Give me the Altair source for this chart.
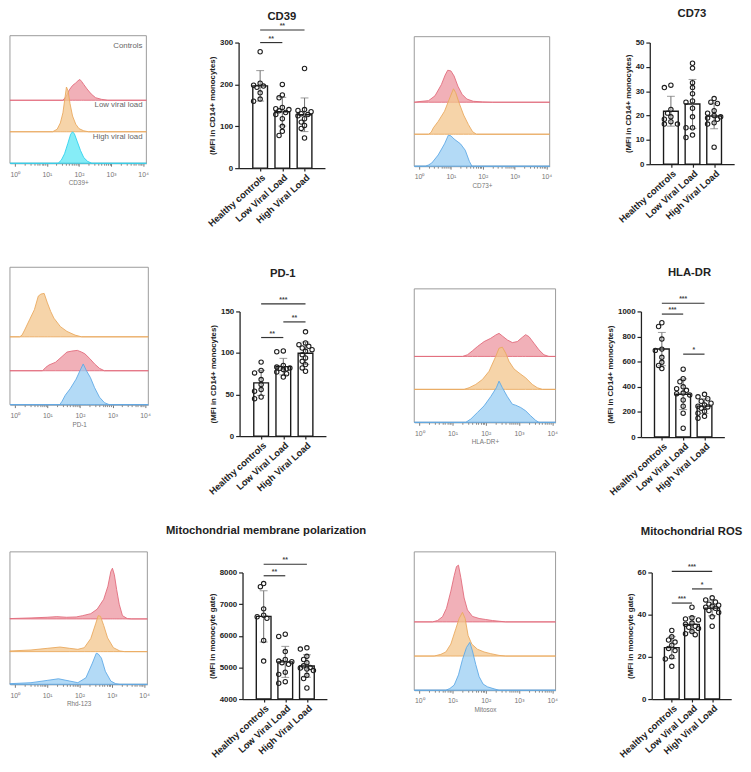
import json
import altair as alt
import pandas as pd
import numpy as np

FONT = "Liberation Sans"
groups = ["Healthy controls", "Low Viral Load", "High Viral Load"]

# ---------------- bar chart values (MFI per donor) ----------------
cd39_hc = [278, 203, 198, 196, 193, 180, 165, 160]
cd39_lv = [200, 175, 168, 145, 142, 140, 137, 133, 128, 118, 100, 88, 78]
cd39_hv = [238, 140, 138, 135, 130, 128, 125, 118, 110, 102, 95, 72]
cd73_hc = [32.5, 31.5, 22.5, 21, 19.5, 18.5, 17.5, 16.5, 16.5]
cd73_lv = [41.5, 39.5, 33.5, 31.5, 29, 26, 25.5, 23, 19.5, 15, 15, 12, 11]
cd73_hv = [27, 25.5, 25, 22, 21, 20, 19.5, 19, 18.5, 17, 16.5, 7]
pd1_hc = [89, 79, 76, 68, 62, 56, 54, 47, 45]
pd1_lv = [102.5, 101.5, 85, 83, 82, 81.5, 81, 80, 77, 75, 71]
pd1_hv = [125.5, 112, 110, 108, 106, 104, 102, 98, 94, 90, 86, 82, 78]
hla_hc = [910, 880, 780, 700, 690, 635, 595, 570, 545]
hla_lv = [540, 465, 440, 400, 385, 372, 350, 345, 335, 295, 245, 190, 70]
hla_hv = [340, 320, 305, 285, 270, 255, 245, 240, 230, 205, 190, 165, 150]
mmp_hc = [7650, 7550, 6850, 6650, 6600, 6550, 5850, 5200]
mmp_lv = [6050, 5980, 5500, 5250, 5200, 5180, 5150, 5100, 4850, 4780, 4550, 4500]
mmp_hv = [5620, 5580, 5350, 5250, 5150, 5050, 5000, 4980, 4950, 4900, 4750, 4650, 4350]
ros_hc = [32.5, 29.5, 28, 27, 25.5, 24, 23, 20, 19, 15.5]
ros_lv = [43.5, 38.5, 38, 37.5, 36, 35.5, 34.5, 34, 33.5, 32, 31, 30.5]
ros_hv = [48, 47, 46, 45, 44.5, 44, 43.5, 43, 42, 41, 39, 34.5]

# significance brackets: (group a, group b, level, stars)
cd39_sig = [(0, 1, 300, "**"), (0, 2, 330, "**")]
cd73_sig = []
pd1_sig = [(0, 1, 118.6, "**"), (1, 2, 137.4, "**"), (0, 2, 159, "***")]
hla_sig = [(0, 1, 979, "***"), (0, 2, 1065, "***"), (1, 2, 660, "*")]
mmp_sig = [(0, 1, 7896, "**"), (0, 2, 8260, "**")]
ros_sig = [(0, 1, 45.5, "***"), (1, 2, 52.2, "*"), (0, 2, 60.5, "***")]

# ---------------- histogram overlays: (log10 intensity, relative count) ----------------
cd39_ctrl = [(1.50, 0), (1.60, 0.12), (1.70, 0.33), (1.80, 0.47), (1.90, 0.55), (1.97, 0.62), (2.03, 0.66), (2.08, 0.60), (2.15, 0.50), (2.25, 0.36), (2.38, 0.20), (2.52, 0.08), (2.70, 0.03), (2.90, 0)]
cd39_low = [(1.18, 0), (1.32, 0.08), (1.42, 0.28), (1.50, 0.6), (1.56, 1.05), (1.61, 1.42), (1.66, 1.3), (1.72, 0.9), (1.80, 0.5), (1.90, 0.24), (2.00, 0.1), (2.15, 0.03), (2.30, 0)]
cd39_high = [(1.35, 0), (1.45, 0.1), (1.55, 0.3), (1.65, 0.62), (1.74, 0.92), (1.80, 1.0), (1.86, 0.93), (1.95, 0.68), (2.05, 0.4), (2.15, 0.18), (2.27, 0.06), (2.40, 0)]

cd73_ctrl = [(0.0, 0.02), (0.3, 0.05), (0.5, 0.2), (0.7, 0.55), (0.82, 0.85), (0.9, 1.0), (1.0, 0.98), (1.1, 0.82), (1.22, 0.5), (1.35, 0.25), (1.5, 0.1), (1.7, 0.03), (2.0, 0.01), (2.3, 0)]
cd73_low = [(0.3, 0), (0.38, 0.06), (0.45, 0.2), (0.6, 0.4), (0.8, 0.72), (0.95, 1.1), (1.08, 1.42), (1.15, 1.3), (1.25, 1.0), (1.4, 0.6), (1.55, 0.3), (1.68, 0.08), (1.8, 0)]
cd73_high = [(0.2, 0), (0.3, 0.04), (0.4, 0.1), (0.6, 0.35), (0.8, 0.7), (0.92, 0.97), (1.0, 0.95), (1.1, 0.85), (1.3, 0.7), (1.45, 0.5), (1.58, 0.15), (1.66, 0)]

pd1_low = [(0.15, 0), (0.22, 0.05), (0.3, 0.2), (0.45, 0.5), (0.6, 0.8), (0.72, 1.2), (0.8, 1.26), (0.9, 1.28), (1.0, 1.0), (1.1, 0.75), (1.2, 0.55), (1.4, 0.3), (1.6, 0.16), (1.85, 0.05), (2.05, 0)]
pd1_ctrl = [(0.85, 0), (0.95, 0.1), (1.05, 0.17), (1.25, 0.25), (1.45, 0.42), (1.6, 0.55), (1.75, 0.58), (1.92, 0.6), (2.05, 0.55), (2.15, 0.5), (2.3, 0.36), (2.45, 0.2), (2.6, 0.07), (2.75, 0)]
pd1_high = [(1.38, 0), (1.45, 0.1), (1.55, 0.28), (1.7, 0.47), (1.88, 0.75), (2.0, 1.0), (2.1, 1.2), (2.2, 1.0), (2.32, 0.8), (2.45, 0.5), (2.6, 0.22), (2.75, 0.06), (2.9, 0)]

hla_ctrl = [(1.3, 0), (1.45, 0.05), (1.6, 0.17), (1.75, 0.3), (1.95, 0.45), (2.15, 0.55), (2.3, 0.65), (2.4, 0.7), (2.5, 0.62), (2.65, 0.5), (2.8, 0.42), (2.95, 0.45), (3.1, 0.58), (3.2, 0.66), (3.3, 0.6), (3.45, 0.4), (3.6, 0.2), (3.75, 0.05), (3.9, 0)]
hla_low = [(1.35, 0), (1.5, 0.05), (1.7, 0.15), (1.9, 0.3), (2.1, 0.55), (2.3, 1.0), (2.4, 1.25), (2.5, 1.28), (2.6, 1.1), (2.7, 0.85), (2.85, 0.62), (3.0, 0.5), (3.2, 0.35), (3.4, 0.15), (3.55, 0.05), (3.7, 0)]
hla_high = [(1.4, 0), (1.55, 0.1), (1.75, 0.3), (1.95, 0.5), (2.15, 0.78), (2.32, 1.05), (2.4, 1.25), (2.5, 1.05), (2.65, 0.78), (2.8, 0.55), (2.9, 0.52), (3.05, 0.45), (3.2, 0.35), (3.35, 0.2), (3.5, 0.06), (3.6, 0)]

rhd_ctrl = [(-0.15, 0.01), (0.5, 0.03), (1.0, 0.05), (1.3, 0.07), (1.6, 0.05), (1.9, 0.06), (2.1, 0.1), (2.35, 0.16), (2.55, 0.3), (2.75, 0.6), (2.88, 1.0), (2.97, 1.45), (3.02, 1.55), (3.08, 1.35), (3.15, 0.9), (3.23, 0.45), (3.33, 0.1), (3.48, 0.01), (3.6, 0)]
rhd_low = [(-0.15, 0.02), (0.5, 0.05), (1.0, 0.1), (1.4, 0.14), (1.7, 0.1), (1.95, 0.07), (2.15, 0.12), (2.35, 0.4), (2.5, 0.85), (2.58, 1.1), (2.65, 1.08), (2.75, 0.8), (2.87, 0.42), (3.05, 0.12), (3.25, 0.02), (3.4, 0)]
rhd_high = [(-0.15, 0.02), (0.5, 0.05), (1.0, 0.12), (1.35, 0.17), (1.7, 0.1), (1.95, 0.05), (2.2, 0.2), (2.4, 0.65), (2.52, 0.95), (2.58, 0.93), (2.68, 0.8), (2.8, 0.4), (2.97, 0.1), (3.12, 0.02), (3.25, 0)]

mitosox_ctrl = [(0.4, 0), (0.55, 0.04), (0.7, 0.15), (0.82, 0.4), (0.95, 0.9), (1.05, 1.35), (1.12, 1.62), (1.18, 1.66), (1.25, 1.3), (1.35, 0.7), (1.45, 0.35), (1.6, 0.16), (1.8, 0.1), (2.0, 0.07), (2.2, 0.04), (2.4, 0.02), (2.6, 0)]
mitosox_low = [(0.45, 0), (0.65, 0.05), (0.8, 0.12), (0.95, 0.35), (1.1, 0.8), (1.2, 1.1), (1.3, 1.28), (1.38, 1.1), (1.47, 0.6), (1.58, 0.35), (1.75, 0.2), (1.95, 0.12), (2.15, 0.07), (2.4, 0.02), (2.6, 0)]
mitosox_high = [(0.8, 0), (0.92, 0.05), (1.05, 0.15), (1.18, 0.45), (1.3, 0.9), (1.42, 1.25), (1.52, 1.4), (1.6, 1.15), (1.7, 0.75), (1.8, 0.4), (1.92, 0.18), (2.05, 0.1), (2.25, 0.04), (2.4, 0)]

tier_labels = ["Controls", "Low viral load", "High viral load"]

RED = ("#EC95A0", "#E26B7B")
ORANGE = ("#F3C58C", "#E9A95E")
BLUE = ("#9ACDF3", "#5EA9E6")
CYAN = ("#5DE7F4", "#2FD2EE")

XDOM_H = [-0.15, 4.1]
FRAME_TOP = 4.05
SUP = ["\u2070", "\u00b9", "\u00b2", "\u00b3", "\u2074"]
minor_vals = [float(np.log10(k)) + d for d in range(4) for k in range(2, 10)]


def swarm(vals, pxu, xpx, r=2.6):
    # deterministic beeswarm: keep circles inside +-2 slots of the bar centre
    order = sorted(range(len(vals)), key=lambda i: -vals[i])
    placed, off = [], [0.0] * len(vals)
    cands = [0, -1, 1, -2, 2]
    step = r * 1.45
    for i in order:
        ypx = vals[i] * pxu
        best, best_d = 0.0, -1.0
        for c in cands:
            xp = c * step
            d = min([((xp - a) ** 2 + (ypx - b) ** 2) ** 0.5 for a, b in placed] or [99.0])
            if d >= 1.8 * r:
                best = xp
                break
            if d > best_d:
                best, best_d = xp, d
        placed.append((best, ypx))
        off[i] = best / xpx
    return off


def bar_panel(title, ytitle, vals, ydom, yticks, sig, w, h, toff, tdx=0):
    xdom = [-0.75, 2.7]
    pxu = h / (ydom[1] - ydom[0])
    xpx = w / (xdom[1] - xdom[0])
    rows = []
    for gi, v in enumerate(vals):
        offs = swarm(v, pxu, xpx)
        for val, o in zip(v, offs):
            rows.append({"g": gi, "v": val, "xj": gi + o})
    df = pd.DataFrame(rows)
    xs = alt.Scale(domain=xdom, nice=False, zero=False)
    ys = alt.Scale(domain=ydom, nice=False, zero=False)
    xa = alt.Axis(values=[0, 1, 2], labelExpr=json.dumps(groups) + "[datum.value]",
                  labelAngle=-42, labelFontSize=9.5, labelFontWeight="bold", labelColor="#222",
                  labelOverlap=False, labelPadding=1, tickSize=3, tickColor="#222", tickWidth=1.2,
                  domainColor="#222", domainWidth=1.3, grid=False, title=None)
    ya = alt.Axis(values=yticks, format="d", title=ytitle, titleFontSize=8, titleFontWeight="bold",
                  titleColor="#222", titlePadding=3, labelFontSize=8, labelFontWeight="bold",
                  labelColor="#222", labelPadding=2, tickSize=4, tickColor="#222", tickWidth=1.2,
                  domainColor="#222", domainWidth=1.3, grid=False)
    X = lambda f: alt.X(f, scale=xs, axis=xa)
    Y = lambda f: alt.Y(f, scale=ys, axis=ya)
    base = alt.Chart(df)
    bars = base.transform_aggregate(m="mean(v)", groupby=["g"]).mark_bar(
        size=15, fill="white", stroke="#1a1a1a", strokeWidth=1.4).encode(
        x=X("g:Q"), y=Y("m:Q"), y2=alt.datum(ydom[0]))
    stats = base.transform_aggregate(m="mean(v)", s="stdev(v)", groupby=["g"]).transform_calculate(
        hi="datum.m + datum.s", lo="datum.m - datum.s")
    erule = stats.mark_rule(color="#7a7a7a", strokeWidth=1.1).encode(x=X("g:Q"), y=Y("lo:Q"), y2="hi:Q")
    etop = stats.mark_tick(color="#7a7a7a", size=8, thickness=1.1, orient="horizontal").encode(x=X("g:Q"), y=Y("hi:Q"))
    elo = stats.mark_tick(color="#7a7a7a", size=8, thickness=1.1, orient="horizontal").encode(x=X("g:Q"), y=Y("lo:Q"))
    pts = base.mark_point(shape="circle", size=20, filled=False, color="#1e1e1e", strokeWidth=1.1, opacity=1).encode(
        x=X("xj:Q"), y=Y("v:Q"))
    layers = [bars, erule, etop, elo, pts]
    if sig:
        sdf = pd.DataFrame(sig, columns=["a", "b", "lvl", "lab"])
        sb = alt.Chart(sdf)
        layers.append(sb.mark_rule(color="#333", strokeWidth=1.2).encode(x=X("a:Q"), x2="b:Q", y=Y("lvl:Q")))
        layers.append(sb.transform_calculate(mid="(datum.a + datum.b) / 2").mark_text(
            fontSize=7, dy=-4, color="#444", fontWeight="bold").encode(x=X("mid:Q"), y=Y("lvl:Q"), text="lab:N"))
    return alt.layer(*layers).properties(
        width=w, height=h,
        title=alt.TitleParams(title, fontSize=11.5, fontWeight="bold", color="#222", frame="group",
                              anchor="middle", offset=toff, dx=tdx))


def hist_panel(curves, xtitle, w, frame_h, plot_h, labels=None):
    # frame spans FRAME_TOP tiers; plot bottom = frame bottom; plot top aligned with neighbour bars
    pxu = frame_h / FRAME_TOP
    ys = alt.Scale(domain=[0, plot_h / pxu], nice=False, zero=False)
    xs = alt.Scale(domain=XDOM_H, nice=False, zero=False)
    major = alt.Axis(values=[0, 1, 2, 3, 4], labelExpr="'10' + " + json.dumps(SUP) + "[datum.value]",
                     labelFontSize=7, labelColor="#777", labelPadding=4, tickSize=3, tickColor="#777",
                     domainColor="#999", title=xtitle, titleFontSize=6.5, titleColor="#777",
                     titleFontWeight="normal", titlePadding=3, grid=False, orient="bottom")
    minor = alt.Axis(values=minor_vals, labels=False, tickSize=2, tickColor="#888", domain=False,
                     title=None, grid=False, orient="bottom")
    frame_df = pd.DataFrame({"x0": [XDOM_H[0]], "x1": [XDOM_H[1]], "y0": [0.0], "y1": [FRAME_TOP]})
    layers = [alt.Chart(frame_df).mark_rect(fillOpacity=0, stroke="#9a9a9a", strokeWidth=1).encode(
        x=alt.X("x0:Q", scale=xs, axis=None), x2="x1:Q",
        y=alt.Y("y0:Q", scale=ys, axis=None), y2="y1:Q")]
    for i, (pts, base, (fill, line)) in enumerate(curves):
        xsd = [p[0] for p in pts]
        hsd = [p[1] for p in pts]
        if xsd[0] > XDOM_H[0]:
            xsd, hsd = [XDOM_H[0]] + xsd, [0] + hsd
        if xsd[-1] < XDOM_H[1]:
            xsd, hsd = xsd + [XDOM_H[1]], hsd + [0]
        df = pd.DataFrame({"x": xsd, "hh": hsd})
        df["y"] = df["hh"] + base
        df["b"] = base
        ax = major if i == 0 else (minor if i == 1 else None)
        layers.append(alt.Chart(df).mark_area(fill=fill, fillOpacity=0.75, stroke=line, strokeWidth=1,
                                              strokeOpacity=0.9).encode(
            x=alt.X("x:Q", scale=xs, axis=ax), y=alt.Y("y:Q", scale=ys, axis=None), y2="b:Q"))
    if labels:
        ldf = pd.DataFrame({"t": labels, "yy": [3.72, 1.86, 0.84]})
        layers.append(alt.Chart(ldf).mark_text(align="right", fontSize=8, color="#666").encode(
            x=alt.datum(3.98, scale=xs, axis=None), y=alt.Y("yy:Q", scale=ys, axis=None), text="t:N"))
    return alt.layer(*layers).resolve_axis(x="independent").properties(width=w, height=plot_h)


YT1 = "(MFI in CD14+ monocytes)"
YT2 = "(MFI in monocyte gate)"

h1 = hist_panel([(cd39_ctrl, 2, RED), (cd39_low, 1, ORANGE), (cd39_high, 0, CYAN)], "CD39+", 139, 130, 123, labels=tier_labels)
b1 = bar_panel("CD39", YT1, [cd39_hc, cd39_lv, cd39_hv], [0, 300], [0, 100, 200, 300], cd39_sig, 88, 128, 0)
h2 = hist_panel([(cd73_ctrl, 2, RED), (cd73_low, 1, ORANGE), (cd73_high, 0, BLUE)], "CD73+", 138, 132, 126)
b2 = bar_panel("CD73", YT1, [cd73_hc, cd73_lv, cd73_hv], [0, 50], [0, 10, 20, 30, 40, 50], cd73_sig, 86, 124, 20)

h3 = hist_panel([(pd1_low, 2, ORANGE), (pd1_ctrl, 1, RED), (pd1_high, 0, BLUE)], "PD-1", 141, 140, 95)
b3 = bar_panel("PD-1", YT1, [pd1_hc, pd1_lv, pd1_hv], [0, 150], [0, 50, 100, 150], pd1_sig, 88, 127, 17)
h4 = hist_panel([(hla_ctrl, 2, RED), (hla_low, 1, ORANGE), (hla_high, 0, BLUE)], "HLA-DR+", 144, 136, 113)
b4 = bar_panel("HLA-DR", YT1, [hla_hc, hla_lv, hla_hv], [0, 1000], [0, 200, 400, 600, 800, 1000], hla_sig, 85, 128, 17, tdx=7)

h5 = hist_panel([(rhd_ctrl, 2, RED), (rhd_low, 1, ORANGE), (rhd_high, 0, BLUE)], "Rhd-123", 140, 135, 114)
b5 = bar_panel("Mitochondrial membrane polarization", YT2, [mmp_hc, mmp_lv, mmp_hv], [4000, 8000],
               [4000, 5000, 6000, 7000, 8000], mmp_sig, 86, 129, 20, tdx=-19)
h6 = hist_panel([(mitosox_ctrl, 2, RED), (mitosox_low, 1, ORANGE), (mitosox_high, 0, BLUE)], "Mitosox", 144, 141, 120)
b6 = bar_panel("Mitochondrial ROS", YT2, [ros_hc, ros_lv, ros_hv], [0, 60], [0, 20, 40, 60], ros_sig, 81, 129, 27)

row1 = alt.hconcat(alt.hconcat(h1, b1, spacing=57), alt.hconcat(h2, b2, spacing=65), spacing=89)
row2 = alt.hconcat(alt.hconcat(h3, b3, spacing=56), alt.hconcat(h4, b4, spacing=49), spacing=88)
row3 = alt.hconcat(alt.hconcat(h5, b5, spacing=15), alt.hconcat(h6, b6, spacing=60), spacing=46)

chart = alt.vconcat(row1, alt.vconcat(row2, row3, spacing=29), spacing=39).configure(
    font=FONT).configure_view(stroke=None).properties(
    padding={"left": 0, "top": -8, "right": 0, "bottom": 0})

chart.save("out.html", embed_options={"renderer": "svg", "actions": False})
